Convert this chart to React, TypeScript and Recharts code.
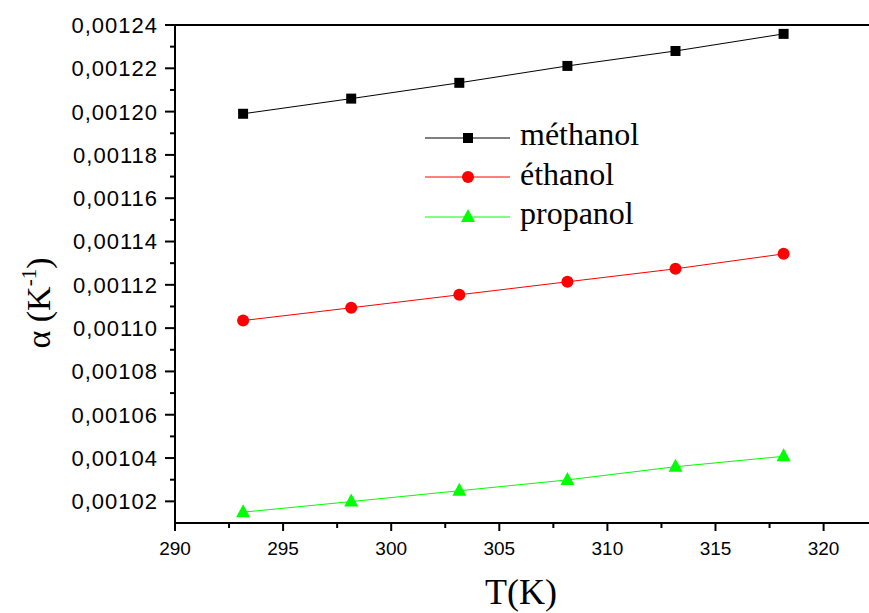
import { LineChart, Line, XAxis, YAxis, ReferenceLine } from "recharts";

const TEMPERATURE = [293.15, 298.15, 303.15, 308.15, 313.15, 318.15];
const METHANOL = [0.001199, 0.001206, 0.0012133, 0.0012211, 0.001228, 0.0012359];
const ETHANOL = [0.0011035, 0.0011094, 0.0011154, 0.0011214, 0.0011274, 0.0011343];
const PROPANOL = [0.001015, 0.0010199, 0.0010249, 0.0010299, 0.001036, 0.0010408];

const X_TICKS = [290, 292.5, 295, 297.5, 300, 302.5, 305, 307.5, 310, 312.5, 315, 317.5, 320];
const X_MAJOR = [290, 295, 300, 305, 310, 315, 320];
const Y_TICKS = [
  0.00102, 0.00103, 0.00104, 0.00105, 0.00106, 0.00107, 0.00108, 0.00109, 0.0011, 0.00111, 0.00112,
  0.00113, 0.00114, 0.00115, 0.00116, 0.00117, 0.00118, 0.00119, 0.0012, 0.00121, 0.00122, 0.00123,
  0.00124,
];

const SERIES = [
  { key: "methanol", name: "méthanol", color: "#000000", marker: "square" },
  { key: "ethanol", name: "éthanol", color: "#ff0000", marker: "circle" },
  { key: "propanol", name: "propanol", color: "#00ff00", marker: "triangle" },
];

const data = TEMPERATURE.map((t, i) => ({
  t,
  methanol: METHANOL[i],
  ethanol: ETHANOL[i],
  propanol: PROPANOL[i],
}));

const sans = "'Liberation Sans', Arial, sans-serif";
const serif = "'Liberation Serif', 'Times New Roman', serif";

function Marker({ cx, cy, type, color }: any) {
  if (type === "square") return <rect x={cx - 5} y={cy - 5} width={10} height={10} fill={color} />;
  if (type === "circle") return <circle cx={cx} cy={cy} r={6} fill={color} />;
  return <polygon points={`${cx},${cy - 8} ${cx - 7},${cy + 5} ${cx + 7},${cy + 5}`} fill={color} />;
}

function XTick({ x, y, payload }: any) {
  const major = X_MAJOR.includes(payload.value);
  return (
    <g>
      <line x1={x} x2={x} y1={y} y2={y + (major ? 8 : 5)} stroke="#000" strokeWidth={2} />
      {major && (
        <text x={x} y={y + 32} textAnchor="middle" fontFamily={sans} fontSize={19} fill="#000">
          {payload.value}
        </text>
      )}
    </g>
  );
}

function YTick({ x, y, payload }: any) {
  const major = Math.round(payload.value * 1e5) % 2 === 0;
  return (
    <g>
      <line x1={x - (major ? 10 : 5)} x2={x} y1={y} y2={y} stroke="#000" strokeWidth={2} />
      {major && (
        <text
          x={x - 17}
          y={y}
          dy="0.36em"
          textAnchor="end"
          fontFamily={sans}
          fontSize={22}
          letterSpacing={1}
          fill="#000"
        >
          {payload.value.toFixed(5).replace(".", ",")}
        </text>
      )}
    </g>
  );
}

function LegendBox() {
  return (
    <div
      style={{ position: "absolute", left: 420, top: 118, fontFamily: serif, fontSize: 32, color: "#000" }}
    >
      {SERIES.map((s) => (
        <div key={s.key} style={{ display: "flex", alignItems: "center", height: 39.5 }}>
          <svg width={96} height={40} style={{ display: "block" }}>
            <line x1={5} x2={90} y1={20} y2={20} stroke={s.color} strokeWidth={1} />
            <Marker cx={48} cy={20} type={s.marker} color={s.color} />
          </svg>
          <span style={{ lineHeight: "39.5px", marginTop: -6, marginLeft: 4 }}>{s.name}</span>
        </div>
      ))}
    </div>
  );
}

export default function App() {
  return (
    <div style={{ position: "absolute", left: 0, top: 0, width: 869, height: 613, background: "#fff" }}>
      <LineChart width={869} height={613} data={data} margin={{ top: 25, right: 0, bottom: 30, left: 0 }}>
        <XAxis
          type="number"
          dataKey="t"
          domain={[290, 322.1]}
          ticks={X_TICKS}
          interval={0}
          tick={<XTick />}
          tickSize={0}
          tickMargin={0}
          tickLine={false}
          axisLine={{ stroke: "#000", strokeWidth: 2 }}
          height={60}
          allowDataOverflow
          label={{
            content: () => (
              <text x={521} y={604} textAnchor="middle" fontFamily={serif} fontSize={36} fill="#000">
                T(K)
              </text>
            ),
          }}
        />
        <YAxis
          type="number"
          domain={[0.00101, 0.00124]}
          ticks={Y_TICKS}
          interval={0}
          tick={<YTick />}
          tickSize={0}
          tickMargin={0}
          tickLine={false}
          axisLine={{ stroke: "#000", strokeWidth: 2 }}
          width={175}
          allowDataOverflow
          label={{
            content: () => (
              <text
                transform="translate(50,303) rotate(-90)"
                textAnchor="middle"
                fontFamily={serif}
                fontSize={34}
                fill="#000"
              >
                α (K
                <tspan dy={-14} fontSize={21}>
                  -1
                </tspan>
                <tspan dy={14}>)</tspan>
              </text>
            ),
          }}
        />
        <ReferenceLine y={0.00124} stroke="#000" strokeWidth={2} />
        {SERIES.map((s) => (
          <Line
            key={s.key}
            type="linear"
            dataKey={s.key}
            name={s.name}
            stroke={s.color}
            strokeWidth={1}
            isAnimationActive={false}
            dot={(p: any) => <Marker key={`${s.key}-${p.index}`} cx={p.cx} cy={p.cy} type={s.marker} color={s.color} />}
            activeDot={false}
          />
        ))}
      </LineChart>
      <LegendBox />
    </div>
  );
}
